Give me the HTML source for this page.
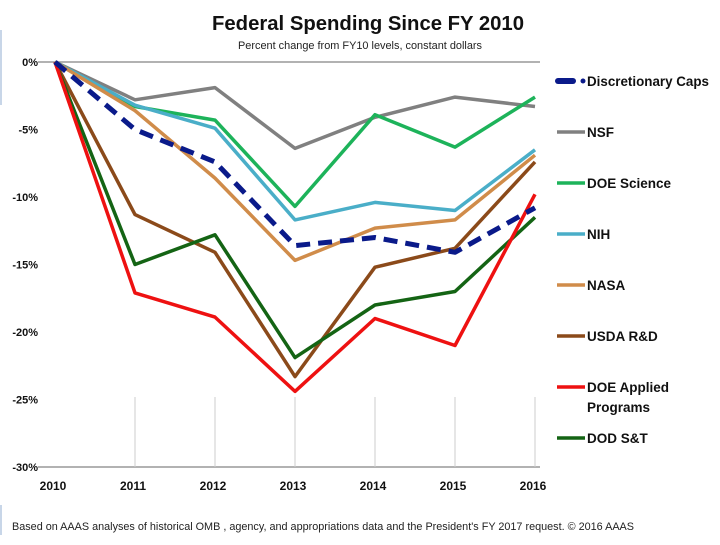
<!DOCTYPE html>
<html><head><meta charset="utf-8"><style>
html,body{margin:0;padding:0;background:#fff;}
svg text{font-family:"Liberation Sans",sans-serif;}
</style></head><body>
<svg id="chart" width="720" height="540" viewBox="0 0 720 540">
<rect x="0" y="0" width="720" height="540" fill="#fff"/>
<line x1="1" y1="30" x2="1" y2="105" stroke="#c8d6e8" stroke-width="2"/>
<line x1="1" y1="505" x2="1" y2="535" stroke="#c8d6e8" stroke-width="2"/>
<text x="368" y="30" text-anchor="middle" font-size="20" font-weight="bold" fill="#111" textLength="312" lengthAdjust="spacingAndGlyphs">Federal Spending Since FY 2010</text>
<text x="360" y="49" text-anchor="middle" font-size="11" fill="#222" textLength="244" lengthAdjust="spacingAndGlyphs">Percent change from FY10 levels, constant dollars</text>
<g id="axes"></g>
<g id="series"></g>
<g id="legend"></g>
<text x="12" y="530" font-size="11" fill="#222" textLength="622" lengthAdjust="spacingAndGlyphs">Based on AAAS analyses of historical OMB , agency, and appropriations data and the President's FY 2017 request. © 2016 AAAS</text>
</svg>
<script>
const years = [2010, 2011, 2012, 2013, 2014, 2015, 2016];
const yTicks = [0, -5, -10, -15, -20, -25, -30];
const seriesNames = ["Discretionary Caps", "NSF", "DOE Science", "NIH", "NASA", "USDA R&D", "DOE Applied Programs", "DOD S&T"];
const discretionary = [0, -5.0, -7.4, -13.6, -13.0, -14.1, -10.8];
const nsf = [0, -2.8, -1.9, -6.4, -4.1, -2.6, -3.3];
const doeScience = [0, -3.3, -4.3, -10.7, -3.9, -6.3, -2.6];
const nih = [0, -3.2, -4.9, -11.7, -10.4, -11.0, -6.5];
const nasa = [0, -3.6, -8.6, -14.7, -12.3, -11.7, -6.9];
const usda = [0, -11.3, -14.1, -23.3, -15.2, -13.8, -7.4];
const doeApplied = [0, -17.1, -18.9, -24.4, -19.0, -21.0, -9.8];
const dod = [0, -15.0, -12.8, -21.9, -18.0, -17.0, -11.5];

const NS = "http://www.w3.org/2000/svg";
const X0 = 55, X1 = 535, Y0 = 62, Y1 = 467;
const xs = i => X0 + (X1 - X0) * i / (years.length - 1);
const ys = v => Y0 + (0 - v) / 30 * (Y1 - Y0);
function mk(tag, attrs, parent) { const e = document.createElementNS(NS, tag); for (const k in attrs) e.setAttribute(k, attrs[k]); parent.appendChild(e); return e; }

const axes = document.getElementById('axes');
const topLine = mk('line', {x1: 38, y1: ys(0), x2: 540, y2: ys(0), stroke: '#999', 'stroke-width': 1.5}, axes);


const baseLine = mk('line', {x1: 38, y1: ys(-30), x2: 540, y2: ys(-30), stroke: '#999', 'stroke-width': 1.5}, axes);


yTicks.forEach(t => {
  const tx = mk('text', {x: 38, y: ys(t) + 4, 'text-anchor': 'end', 'font-size': 11, 'font-weight': 'bold', fill: '#111'}, axes);
  tx.textContent = t + '%';
  
  
});
years.forEach((yr, i) => {
  if (i > 0) {
    const tk = mk('line', {x1: xs(i), y1: Y1 - 70, x2: xs(i), y2: Y1, stroke: '#ccc', 'stroke-width': 1}, axes);
    
    
  }
  const tx = mk('text', {x: xs(i) - 2, y: 490, 'text-anchor': 'middle', 'font-size': 12, 'font-weight': 'bold', fill: '#111'}, axes);
  tx.textContent = yr;
  
  
});

const seriesData = [discretionary, nsf, doeScience, nih, nasa, usda, doeApplied, dod];
const colors = ['#0a1a8a', '#808080', '#1db35a', '#4aaec8', '#d08c4a', '#8b4a1a', '#ee1111', '#146414'];
const slugs = ['discretionary-caps', 'nsf', 'doe-science', 'nih', 'nasa', 'usda-rd', 'doe-applied', 'dod-st'];
const sg = document.getElementById('series');
const order = [1, 2, 3, 4, 5, 7, 6, 0];
order.forEach(k => {
  const d = seriesData[k].map((v, i) => (i ? 'L' : 'M') + xs(i).toFixed(1) + ' ' + ys(v).toFixed(1)).join(' ');
  const p = mk('path', {d: d, fill: 'none', stroke: colors[k], 'stroke-width': k === 0 ? 5 : 3.5, 'stroke-linejoin': 'round'}, sg);
  if (k === 0) { p.setAttribute('stroke-dasharray', '14 8'); }
  
  
});

const lg = document.getElementById('legend');
const legY = [81, 132, 183, 234, 285, 336, 387, 438];
seriesNames.forEach((n, k) => {
  const y = legY[k];
  const g = mk('g', {}, lg);
  
  
  if (k === 0) {
    mk('line', {x1: 558, y1: y, x2: 573, y2: y, stroke: colors[0], 'stroke-width': 6, 'stroke-linecap': 'round'}, g);
    mk('circle', {cx: 583, cy: y, r: 2.5, fill: colors[0]}, g);
  } else {
    mk('line', {x1: 557, y1: y, x2: 585, y2: y, stroke: colors[k], 'stroke-width': 3.5}, g);
  }
  const lines = k === 6 ? ['DOE Applied', 'Programs'] : [n];
  lines.forEach((t, j) => {
    const tx = mk('text', {x: k === 0 ? 587 : 587, y: y + 5 + j * 20, 'font-size': 13.5, 'font-weight': 'bold', fill: '#111'}, g);
    tx.textContent = t;
    if (k === 0) { tx.setAttribute('textLength', '122'); tx.setAttribute('lengthAdjust', 'spacingAndGlyphs'); }
  });
});
</script>
</body></html>
